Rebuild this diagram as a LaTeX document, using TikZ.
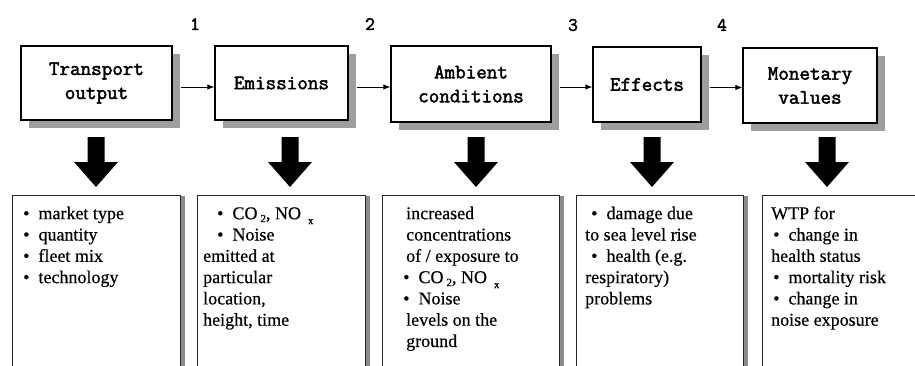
\documentclass[tikz,border=0pt]{standalone}
\usepackage{fontspec}
\setmainfont{Liberation Serif}[FakeBold=0.4]
\newfontfamily\stagefont{Latin Modern Mono}[FakeBold=2.2]
\usetikzlibrary{arrows.meta,shadows}

% lowered index used for chemical formulas (CO 2, NO x)
\newcommand\lowidx[2]{\raisebox{-#1}{\fontsize{11}{11}\selectfont #2}}
% bullet followed by a fixed gap
\newcommand\bul{\textbullet\hspace{9pt}}
% strut fixing the top of the first line 13pt above its baseline
\newcommand\firstline{\rule{0pt}{13pt}}

\begin{document}
\begin{tikzpicture}[x=1pt,y=-1pt,
  stage/.style={draw=black, line width=1.3pt, fill=white, inner sep=0pt,
    align=center, font=\stagefont\fontsize{20.5}{24}\selectfont,
    drop shadow={shadow xshift=8pt, shadow yshift=-8pt, fill=black!38, opacity=1}},
  detail/.style={draw=black!85, line width=1pt, fill=white, inner sep=0pt,
    anchor=north west, minimum height=220pt,
    drop shadow={shadow xshift=4pt, shadow yshift=0pt, fill=black!45, opacity=1}},
  dtext/.style={anchor=north west, align=left, inner sep=0pt,
    font=\fontsize{18}{21.3}\selectfont},
  num/.style={font=\stagefont\fontsize{19}{19}\selectfont, inner sep=0pt},
  flow/.style={-{Latex[length=7pt,width=5.5pt]}, line width=0.9pt},
  blockdown/.pic={\fill[black] (-8.5,0) -- (8.5,0) -- (8.5,25) -- (22,25)
    -- (0,50) -- (-22,25) -- (-8.5,25) -- cycle;}
]
\useasboundingbox (0,0) rectangle (915,365);
\clip (0,0) rectangle (915,365);

% chain of stages
\node[stage, minimum width=151pt, minimum height=74pt] (t1) at (96.5,83) {Transport\\output};
\node[stage, minimum width=133pt, minimum height=74pt] (t2) at (281.5,83) {Emissions};
\node[stage, minimum width=160pt, minimum height=76pt] (t3) at (471,84) {Ambient\\conditions};
\node[stage, minimum width=108pt, minimum height=75pt] (t4) at (647,84.5) {Effects};
\node[stage, minimum width=134pt, minimum height=75pt] (t5) at (810,85.5) {Monetary\\values};

% links between stages, kept horizontal
\draw[flow] ([xshift=8pt,yshift=-4pt]t1.east) coordinate (a1) -- (a1 -| t2.west);
\draw[flow] ([xshift=8pt,yshift=-4pt]t2.east) coordinate (a2) -- (a2 -| t3.west);
\draw[flow] ([xshift=8pt,yshift=-3pt]t3.east) coordinate (a3) -- (a3 -| t4.west);
\draw[flow] ([xshift=8pt,yshift=-3pt]t4.east) coordinate (a4) -- (a4 -| t5.west);

% step numbers
\node[num] (n1) at (195,24) {1};
\node[num] (n2) at (370,24) {2};
\node[num] (n3) at (573,25) {3};
\node[num] (n4) at (722,25) {4};

% block arrows down to the details
\pic at (96,137) {blockdown};
\pic at (290,137) {blockdown};
\pic at (476,137) {blockdown};
\pic at (652,137) {blockdown};
\pic at (827,137) {blockdown};

% detail boxes
\node[detail, minimum width=168pt] (b1) at (12,195) {};
\node[detail, minimum width=168pt] (b2) at (197,195) {};
\node[detail, minimum width=177pt] (b3) at (382,195) {};
\node[detail, minimum width=167pt] (b4) at (576,195) {};
\node[detail, minimum width=200pt] (b5) at (762,195) {};

\node[dtext] (x1) at (23,206) {\firstline\bul market type\\ \bul quantity\\ \bul fleet mix\\ \bul technology};
\node[dtext] (x2) at (203,206) {\firstline\hspace{14pt}\bul CO\,\lowidx{3pt}{2}, NO\hspace{7pt}\lowidx{5pt}{x}\\
  \hspace{14pt}\bul Noise\\ emitted at\\ particular\\ location,\\ height, time};
\node[dtext] (x3) at (406,206) {\firstline increased\\ concentrations\\ of / exposure to\\
  \hspace{-3pt}\bul CO\,\lowidx{3pt}{2}, NO\hspace{7pt}\lowidx{5pt}{x}\\ \hspace{-3pt}\bul Noise\\
  levels on the\\ ground};
\node[dtext] (x4) at (585,206) {\firstline\hspace{6pt}\bul damage due\\ to sea level rise\\
  \hspace{6pt}\bul health (e.g.\\ respiratory)\\ problems};
\node[dtext] (x5) at (771,206) {\firstline WTP for\\ \hspace{2pt}\bul change in\\ health status\\
  \hspace{2pt}\bul mortality risk\\ \hspace{2pt}\bul change in\\ noise exposure};
\end{tikzpicture}
\end{document}
